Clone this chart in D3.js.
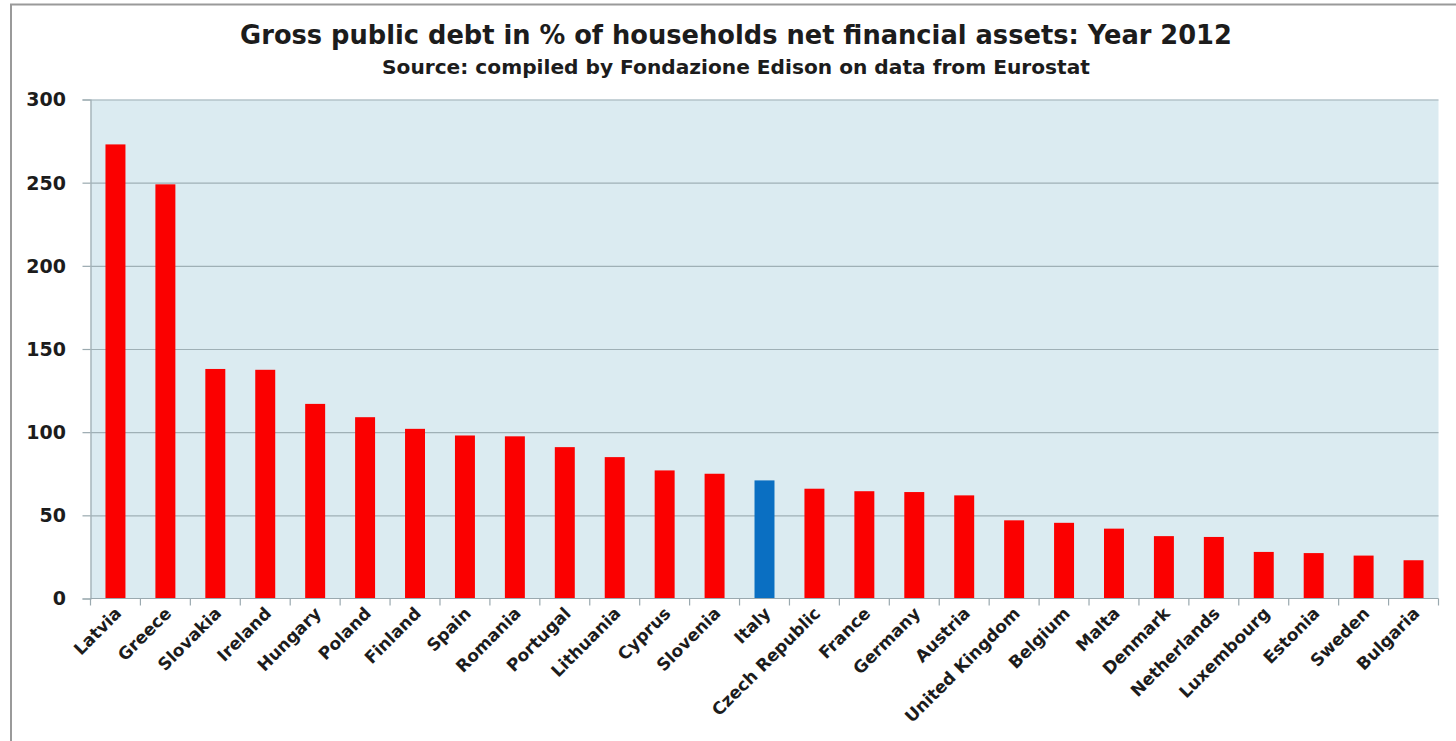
<!DOCTYPE html>
<html>
<head>
<meta charset="utf-8">
<script src="https://cdn.jsdelivr.net/npm/d3@7"></script>
<style>
  html, body { margin: 0; padding: 0; background: #ffffff; }
  svg { display: block; }
  text { font-family: "DejaVu Sans", "Open Sans", sans-serif; font-weight: 700; fill: #1c1c1c; }
</style>
</head>
<body>
<svg id="chart" width="1456" height="741"></svg>
<script>
// Gross public debt as % of households' net financial assets, 2012
const countries = ["Latvia", "Greece", "Slovakia", "Ireland", "Hungary", "Poland", "Finland",
  "Spain", "Romania", "Portugal", "Lithuania", "Cyprus", "Slovenia", "Italy",
  "Czech Republic", "France", "Germany", "Austria", "United Kingdom", "Belgium",
  "Malta", "Denmark", "Netherlands", "Luxembourg", "Estonia", "Sweden", "Bulgaria"];
const debtRatio = [273, 249, 138, 137.5, 117, 109, 102, 98, 97.5, 91, 85, 77, 75, 71,
  66, 64.5, 64, 62, 47, 45.5, 42, 37.5, 37, 28, 27.3, 25.8, 23];
const highlighted = ["Italy"];
const yTicks = [0, 50, 100, 150, 200, 250, 300];
const titleText = "Gross public debt in % of households net financial assets: Year 2012";
const subtitleText = "Source: compiled by Fondazione Edison on data from Eurostat";

const svg = d3.select("#chart");
const W = 1456, H = 741;
const plot = { left: 90.5, right: 1438.5, top: 99.5, bottom: 598.5 };

// outer frame (left and top edges visible)
svg.append("path")
  .attr("d", `M11,${H + 5}V4.5H${W + 5}`)
  .attr("fill", "none").attr("stroke", "#9a9a9a").attr("stroke-width", 2);

// fit a text element to a target width
function fitText(sel, targetWidth) {
  const base = parseFloat(sel.attr("font-size"));
  const w = sel.node().getComputedTextLength();
  sel.attr("font-size", (base * targetWidth / w).toFixed(2));
}

const title = svg.append("text")
  .attr("x", 736).attr("y", 44)
  .attr("text-anchor", "middle")
  .attr("font-size", 22)
  .text(titleText);
fitText(title, 992);

const subtitle = svg.append("text")
  .attr("x", 736).attr("y", 74)
  .attr("text-anchor", "middle")
  .attr("font-size", 14)
  .text(subtitleText);
fitText(subtitle, 708);

const x = d3.scaleBand()
  .domain(countries)
  .range([plot.left, plot.right])
  .paddingInner(0.6)
  .paddingOuter(0.3);

const y = d3.scaleLinear()
  .domain([0, 300])
  .range([plot.bottom, plot.top]);

// plot background
svg.append("rect")
  .attr("x", plot.left).attr("y", plot.top)
  .attr("width", plot.right - plot.left)
  .attr("height", plot.bottom - plot.top)
  .attr("fill", "#dbebf1");

// horizontal gridlines with outward ticks
const yAxis = d3.axisLeft(y).tickValues(yTicks).tickSize(8).tickFormat("");
const gy = svg.append("g").attr("transform", `translate(${plot.left},0)`).call(yAxis);
gy.select(".domain").attr("stroke", "#9aa9af").attr("stroke-width", 1.2);
gy.selectAll(".tick line").attr("stroke", "#9aa9af").attr("stroke-width", 1.2);
gy.selectAll(".tick").filter(d => d > 0).append("line")
  .attr("x1", 0).attr("x2", plot.right - plot.left)
  .attr("stroke", "#9fb0b6").attr("stroke-width", 1.2);

// y tick labels
svg.append("g").selectAll("text")
  .data(yTicks)
  .join("text")
  .attr("x", 66)
  .attr("y", d => y(d))
  .attr("dy", "0.36em")
  .attr("text-anchor", "end")
  .attr("font-size", 19)
  .text(d => d);

// bars
svg.append("g").selectAll("rect")
  .data(countries)
  .join("rect")
  .attr("x", d => x(d))
  .attr("width", x.bandwidth())
  .attr("y", (d, i) => y(debtRatio[i]))
  .attr("height", (d, i) => y(0) - y(debtRatio[i]))
  .attr("fill", d => highlighted.includes(d) ? "#0a6fc2" : "#fb0000");

// category axis: baseline with tick marks between categories
const boundaries = d3.range(countries.length + 1).map(i => plot.left + i * (plot.right - plot.left) / countries.length);
const gx = svg.append("g");
gx.append("line")
  .attr("x1", plot.left).attr("x2", plot.right)
  .attr("y1", plot.bottom).attr("y2", plot.bottom)
  .attr("stroke", "#9aa9af").attr("stroke-width", 1.2);
gx.selectAll("line.tk")
  .data(boundaries)
  .join("line").attr("class", "tk")
  .attr("x1", d => d).attr("x2", d => d)
  .attr("y1", plot.bottom).attr("y2", plot.bottom + 7)
  .attr("stroke", "#9aa9af").attr("stroke-width", 1.2);

// rotated country labels
gx.selectAll("text")
  .data(countries)
  .join("text")
  .attr("transform", d => `translate(${x(d) + x.bandwidth() / 2 + 7},${plot.bottom + 16}) rotate(-45)`)
  .attr("text-anchor", "end")
  .attr("font-size", 17)
  .text(d => d);
</script>
</body>
</html>
